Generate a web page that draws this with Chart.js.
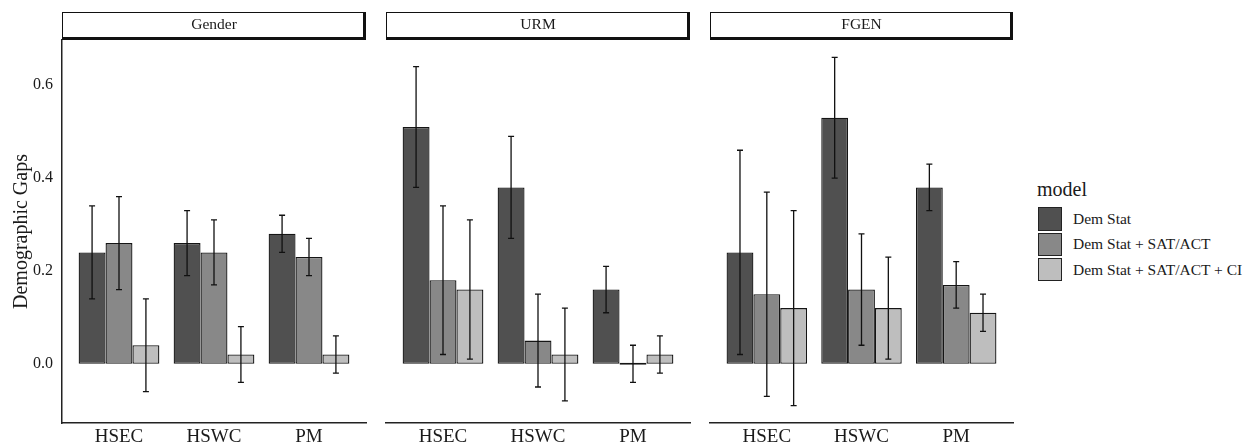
<!DOCTYPE html>
<html>
<head>
<meta charset="utf-8">
<script src="https://cdn.jsdelivr.net/npm/chart.js@4.4.0/dist/chart.umd.min.js"></script>
<style>
  body { margin: 0; background: #fff; }
  #wrap { position: relative; width: 1254px; height: 447px; font-family: "Liberation Serif", serif; color: #1a1a1a; }
  .panel { position: absolute; top: 0; height: 447px; }
  #legend { position: absolute; left: 1037px; top: 176px; white-space: nowrap; }
  #legend .title { font-size: 20px; height: 30.5px; line-height: 26px; }
  #legend .item { display: flex; align-items: center; height: 25.3px; font-size: 15.5px; }
  #legend .swatch { box-sizing: border-box; width: 23.5px; height: 23.5px; border: 1.5px solid #222; margin: 0 11.5px 0 1px; }
</style>
</head>
<body>
<div id="wrap">
  <div class="panel" style="left:0;width:376px"><canvas id="gender"></canvas></div>
  <div class="panel" style="left:376px;width:324px"><canvas id="urm"></canvas></div>
  <div class="panel" style="left:700px;width:323px"><canvas id="fgen"></canvas></div>
  <div id="legend"></div>
</div>
<script>
const categories = ['HSEC', 'HSWC', 'PM'];
const models = ['Dem Stat', 'Dem Stat + SAT/ACT', 'Dem Stat + SAT/ACT + CI'];
const modelColors = ['#505050', '#888888', '#bebebe'];
const yTicks = [0, 0.2, 0.4, 0.6];

// rows = model, columns = category
const genderGaps  = [[0.24, 0.26, 0.28], [0.26, 0.24, 0.23], [0.04, 0.02, 0.02]];
const genderLower = [[0.14, 0.19, 0.24], [0.16, 0.17, 0.19], [-0.06, -0.04, -0.02]];
const genderUpper = [[0.34, 0.33, 0.32], [0.36, 0.31, 0.27], [0.14, 0.08, 0.06]];

const urmGaps  = [[0.51, 0.38, 0.16], [0.18, 0.05, 0.0], [0.16, 0.02, 0.02]];
const urmLower = [[0.38, 0.27, 0.11], [0.02, -0.05, -0.04], [0.01, -0.08, -0.02]];
const urmUpper = [[0.64, 0.49, 0.21], [0.34, 0.15, 0.04], [0.31, 0.12, 0.06]];

const fgenGaps  = [[0.24, 0.53, 0.38], [0.15, 0.16, 0.17], [0.12, 0.12, 0.11]];
const fgenLower = [[0.02, 0.40, 0.33], [-0.07, 0.04, 0.12], [-0.09, 0.01, 0.07]];
const fgenUpper = [[0.46, 0.66, 0.43], [0.37, 0.28, 0.22], [0.33, 0.23, 0.15]];

const fontFamily = '"Liberation Serif", "Times New Roman", serif';
const textColor = '#1a1a1a';

// shared y range, padded 5% like ggplot does
const allLow = [genderLower, urmLower, fgenLower].flat(2);
const allHigh = [genderUpper, urmUpper, fgenUpper].flat(2);
const lo = Math.min(...allLow), hi = Math.max(...allHigh);
const yMin = lo - (hi - lo) * 0.05;
const yMax = hi + (hi - lo) * 0.05;

// facet strip drawn above each panel
const stripPlugin = {
    id: 'strip',
    afterDraw(chart, args, opts) {
        const { ctx, chartArea: { left, right, top } } = chart;
        const h = 28, y0 = top - h;
        ctx.save();
        ctx.fillStyle = '#fff';
        ctx.fillRect(left, y0, right - left, h);
        ctx.strokeStyle = '#111';
        ctx.lineWidth = 1;
        ctx.strokeRect(left + 0.5, y0 + 0.5, right - left - 1, h - 1);
        ctx.fillStyle = '#111';
        ctx.fillRect(right - 3, y0, 3, h);
        ctx.fillRect(left, top - 3, right - left, 3);
        ctx.fillStyle = textColor;
        ctx.font = '15.5px ' + fontFamily;
        ctx.textAlign = 'center';
        ctx.textBaseline = 'middle';
        ctx.fillText(opts.text, (left + right) / 2, y0 + h / 2 - 1);
        ctx.restore();
    }
};

// error bars from the lower/upper arrays
const errorBarPlugin = {
    id: 'errorBars',
    afterDatasetsDraw(chart, args, opts) {
        const { ctx } = chart;
        const yScale = chart.scales.y;
        ctx.save();
        ctx.strokeStyle = '#111';
        ctx.lineWidth = 1.3;
        chart.data.datasets.forEach((ds, d) => {
            chart.getDatasetMeta(d).data.forEach((bar, i) => {
                const yLo = yScale.getPixelForValue(opts.lower[d][i]);
                const yHi = yScale.getPixelForValue(opts.upper[d][i]);
                ctx.beginPath();
                ctx.moveTo(bar.x, yLo); ctx.lineTo(bar.x, yHi);
                ctx.moveTo(bar.x - 3, yLo); ctx.lineTo(bar.x + 3, yLo);
                ctx.moveTo(bar.x - 3, yHi); ctx.lineTo(bar.x + 3, yHi);
                ctx.stroke();
            });
        });
        ctx.restore();
    }
};

function makePanel(canvasId, label, gaps, lower, upper, showY) {
    new Chart(document.getElementById(canvasId), {
        type: 'bar',
        data: {
            datasets: models.map((m, d) => ({
                label: m,
                data: categories.map((c, i) => ({ x: i + 1, y: gaps[d][i] })),
                backgroundColor: modelColors[d],
                borderColor: '#151515',
                borderWidth: 1.3,
                borderSkipped: false,
                minBarLength: 2,
                categoryPercentage: 0.85,
                barPercentage: 1
            }))
        },
        options: {
            responsive: true,
            maintainAspectRatio: false,
            animation: false,
            layout: { padding: { top: 40, left: showY ? 0 : 10, right: 10, bottom: 0 } },
            plugins: {
                legend: { display: false },
                tooltip: { enabled: false },
                strip: { text: label },
                errorBars: { lower, upper }
            },
            scales: {
                x: {
                    type: 'linear',
                    min: 0.4,
                    max: 3.6,
                    offset: false,
                    grid: { display: false, drawTicks: false, offset: false },
                    border: { display: true, color: '#222', width: 1.5 },
                    afterBuildTicks: s => { s.ticks = categories.map((c, i) => ({ value: i + 1 })); },
                    ticks: {
                        callback: v => categories[Math.round(v) - 1],
                        font: { family: fontFamily, size: 19 },
                        color: textColor,
                        padding: 3,
                        maxRotation: 0,
                        autoSkip: false
                    },
                    afterFit: s => { s.height = 24; }
                },
                y: {
                    display: showY,
                    min: yMin,
                    max: yMax,
                    afterBuildTicks: s => { s.ticks = yTicks.map(v => ({ value: v })); },
                    grid: { display: false, drawTicks: false },
                    border: { display: true, color: '#222', width: 1.5 },
                    ticks: {
                        callback: v => v.toFixed(1),
                        font: { family: fontFamily, size: 16 },
                        color: textColor,
                        padding: 9
                    },
                    title: {
                        display: true,
                        text: 'Demographic Gaps',
                        font: { family: fontFamily, size: 20 },
                        color: textColor,
                        padding: { top: 10, bottom: 0 }
                    },
                    afterFit: s => { s.width = showY ? 62 : 0; }
                }
            }
        },
        plugins: [stripPlugin, errorBarPlugin]
    });
}

makePanel('gender', 'Gender', genderGaps, genderLower, genderUpper, true);
makePanel('urm', 'URM', urmGaps, urmLower, urmUpper, false);
makePanel('fgen', 'FGEN', fgenGaps, fgenLower, fgenUpper, false);

// legend
const legend = document.getElementById('legend');
legend.innerHTML = '<div class="title">model</div>' + models.map((m, d) =>
    `<div class="item"><div class="swatch" style="background:${modelColors[d]}"></div><span>${m}</span></div>`
).join('');
</script>
</body>
</html>
